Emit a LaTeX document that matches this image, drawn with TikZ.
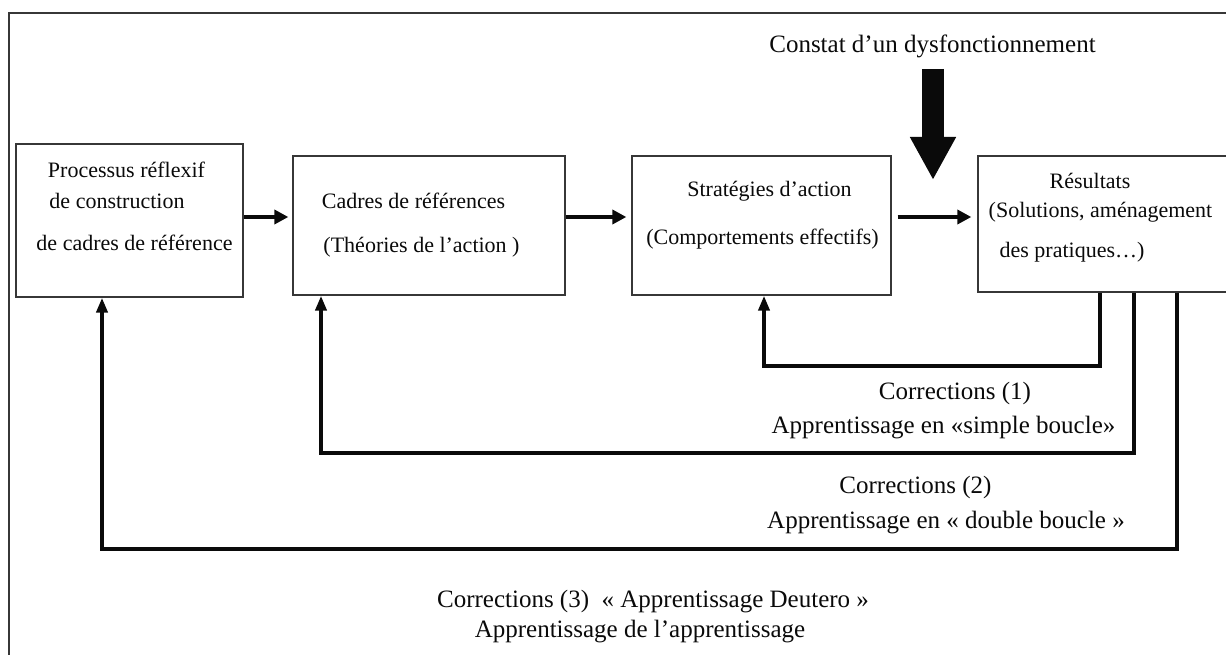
\documentclass[tikz,border=0pt]{standalone}
\usepackage{fontspec}
\setmainfont{Liberation Serif}
\usepackage{xcolor}
\usepackage{tikz}
\usetikzlibrary{arrows.meta,calc,positioning}
\definecolor{ink}{RGB}{10,10,10}
\definecolor{boxline}{RGB}{55,55,55}
\newcommand{\BoxFont}{\fontsize{22}{26}\selectfont}
\newcommand{\NoteFont}{\fontsize{25}{30}\selectfont}
\tikzset{
  frame/.style={draw=boxline, line width=1.5pt},
  cadre/.style={rectangle, draw=boxline, fill=white, line width=1.3pt, inner sep=0pt},
  boxtxt/.style={anchor=base, inner sep=0pt, font=\BoxFont, text=ink},
  note/.style={anchor=base, inner sep=0pt, font=\NoteFont, text=ink},
  flow/.style={-{Triangle[length=14pt, width=14pt]}, line width=4.5pt, draw=ink},
  back/.style={-{Triangle[length=15pt, width=11pt]}, line width=4.5pt, draw=ink},
  alarm/.style={-{Triangle[length=43pt, width=43pt]}, line width=22pt, draw=ink}
}

\begin{document}
\begin{tikzpicture}[x=1pt, y=-1pt]
  \useasboundingbox (0,0) rectangle (1226,655);
  \draw[frame] (9,660) -- (9,13) -- (1232,13);
  % boxes
  \node[cadre, minimum width=227pt, minimum height=153pt] (b1) at (129.5,220.5) {};
  \node[cadre, minimum width=272pt, minimum height=139pt] (b2) at (429,225.5) {};
  \node[cadre, minimum width=259pt, minimum height=139pt] (b3) at (761.5,225.5) {};
  \node[cadre, minimum width=251pt, minimum height=136pt] (b4) at (1103.5,224) {};
  \node[boxtxt] (b1a) at (126.5,178) {Processus réflexif};
  \node[boxtxt] (b1b) at (117,208) {de construction};
  \node[boxtxt] (b1c) at (134.5,251) {de cadres de référence};
  \node[boxtxt] (b2a) at (413.5,209) {Cadres de références};
  \node[boxtxt] (b2b) at (421.5,252) {(Théories de l’action )};
  \node[boxtxt] (b3a) at (769.5,197) {Stratégies d’action};
  \node[boxtxt] (b3b) at (762.5,244) {(Comportements effectifs)};
  \node[boxtxt] (b4a) at (1090,189) {Résultats};
  \node[boxtxt] (b4b) at (1100.5,218) {(Solutions, aménagement};
  \node[boxtxt] (b4c) at (1072,257) {des pratiques…)};
  % forward chain
  \coordinate (rail) at (0,217);
  \draw[flow, shorten >=4pt] (b1.east |- rail) -- (b2.west |- rail);
  \draw[flow, shorten >=5pt] (b2.east |- rail) -- (b3.west |- rail);
  \draw[flow, shorten <=6pt, shorten >=6pt] (b3.east |- rail) -- (b4.west |- rail);
  % dysfunction
  \node[note] (constat) at (932.5,53) {Constat d’un dysfonctionnement};
  \coordinate (alarmtop) at (933,69); \coordinate (alarmtip) at (933,180);
  \draw[alarm] (alarmtop) -- (alarmtip);
  % feedback loops
  \coordinate (r1) at (1100,366); \coordinate (l1) at (764,366);
  \coordinate (r2) at (1134,453); \coordinate (l2) at (321,453);
  \coordinate (r3) at (1177,549); \coordinate (l3) at (102,549);
  \draw[back] (b4.south -| r1) -- (r1) -- (l1) -- (b3.south -| l1);
  \draw[back] (b4.south -| r2) -- (r2) -- (l2) -- (b2.south -| l2);
  \draw[back] (b4.south -| r3) -- (r3) -- (l3) -- (b1.south -| l3);
  \node[note] (c1) at (955,399) {Corrections (1)};
  \node[note] (c1b) at (943.5,433) {Apprentissage en «simple boucle»};
  \node[note] (c2) at (915.5,493) {Corrections (2)};
  \node[note] (c2b) at (946,528) {Apprentissage en « double boucle »};
  \node[note] (c3) at (653,607) {Corrections (3)\hspace{0.5em}« Apprentissage Deutero »};
  \node[note] (c3b) at (640,637) {Apprentissage de l’apprentissage};
\end{tikzpicture}
\end{document}
